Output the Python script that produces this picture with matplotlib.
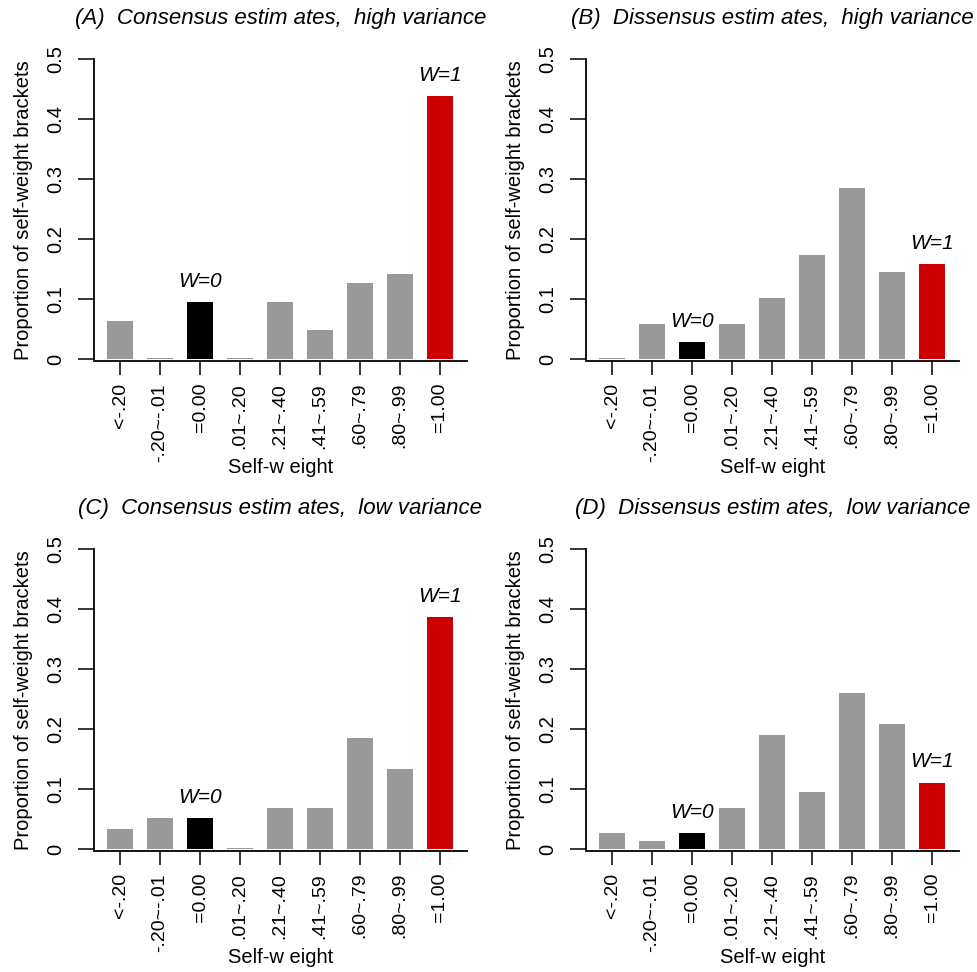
import numpy as np
import matplotlib
matplotlib.use("Agg")
import matplotlib.pyplot as plt

plt.rcParams['font.family'] = ['Liberation Sans', 'DejaVu Sans']

# self-weight brackets
brackets = ['<-.20', '-.20~-.01', '=0.00', '.01~.20', '.21~.40',
            '.41~.59', '.60~.79', '.80~.99', '=1.00']

# proportion of participants in each bracket
consensus_high = [0.064, 0.002, 0.095, 0.002, 0.095, 0.048, 0.127, 0.142, 0.439]
dissensus_high = [0.002, 0.058, 0.029, 0.058, 0.102, 0.173, 0.286, 0.146, 0.158]
consensus_low = [0.033, 0.052, 0.052, 0.002, 0.068, 0.068, 0.186, 0.133, 0.387]
dissensus_low = [0.027, 0.014, 0.027, 0.069, 0.191, 0.095, 0.261, 0.208, 0.111]

titles = ['(A)  Consensus estim ates,  high variance',
          '(B)  Dissensus estim ates,  high variance',
          '(C)  Consensus estim ates,  low variance',
          '(D)  Dissensus estim ates,  low variance']

yticks = [0, 0.1, 0.2, 0.3, 0.4, 0.5]
ytick_labels = ['0', '0.1', '0.2', '0.3', '0.4', '0.5']

gray = '#999999'
black = '#000000'
red = '#CC0000'
colors = [gray, gray, black, gray, gray, gray, gray, gray, red]

W, H = 977, 972
fig = plt.figure(figsize=(W / 100, H / 100), dpi=100)

# axes boxes in pixels: left, right, top (y=0.5), bottom (x axis line)
boxes = [(94, 467, 59.3, 360.7), (586, 959, 59.3, 360.7),
         (94, 467, 549.3, 850.7), (586, 959, 549.3, 850.7)]
series = [consensus_high, dissensus_high, consensus_low, dissensus_low]

x = np.arange(len(brackets))
for (l, r, t, b), vals, title in zip(boxes, series, titles):
    ax = fig.add_axes([l / W, 1 - b / H, (r - l) / W, (b - t) / H])
    ax.bar(x, vals, width=0.63, color=colors, edgecolor='none')
    ax.set_xlim(-0.65, 8.675)
    ax.set_ylim(-0.0024, 0.5)

    for side in ['top', 'right']:
        ax.spines[side].set_visible(False)
    ax.spines['left'].set_bounds(0, 0.5)
    ax.spines['left'].set_linewidth(1.3)
    ax.spines['bottom'].set_linewidth(1.3)

    ax.set_yticks(yticks)
    ax.set_yticklabels(ytick_labels, rotation=90, va='center', fontsize=14.5)
    ax.tick_params(axis='y', length=11.5, width=1.1, pad=9)
    ax.set_xticks(x)
    ax.set_xticklabels(brackets, rotation=90, fontsize=14)
    ax.tick_params(axis='x', length=10, width=1.1, pad=6)

    ax.text(0.5, -0.355, 'Self-w eight', transform=ax.transAxes,
            ha='center', va='center', fontsize=14.5)
    ax.text(-0.19, 0.5, 'Proportion of self-weight brackets', transform=ax.transAxes,
            ha='center', va='center', rotation=90, fontsize=14.5)
    ax.text(0.5, 1.137, title, transform=ax.transAxes, ha='center', va='center',
            fontsize=16, style='italic', clip_on=False)

    for i, lab in [(2, 'W=0'), (8, 'W=1')]:
        ax.annotate(lab, (x[i], vals[i]), xytext=(0, 11), textcoords='offset points',
                    ha='center', va='baseline', fontsize=15, style='italic')

fig.savefig('out.png', dpi=100)
